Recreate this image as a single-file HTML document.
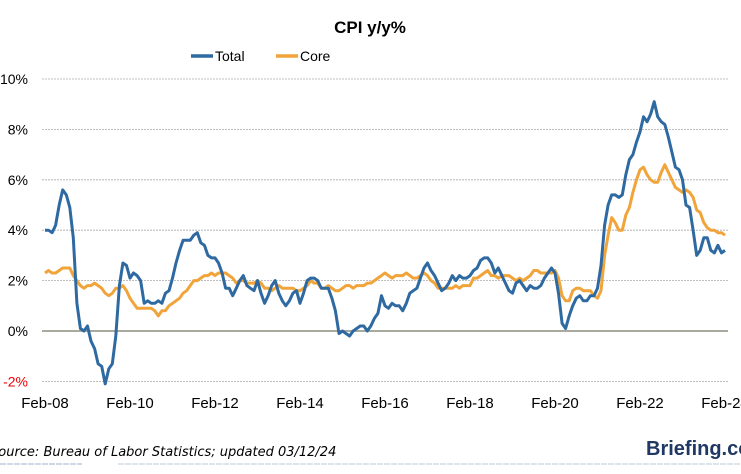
<!DOCTYPE html>
<html><head><meta charset="utf-8"><style>
body{margin:0;background:#fff;width:741px;height:474px;overflow:hidden;font-family:"Liberation Sans",sans-serif}
svg{display:block}
</style></head><body>
<svg id="chart" width="741" height="474">
<text x="370" y="33" text-anchor="middle" font-size="17" font-weight="bold">CPI y/y%</text>
<g>
<g><line x1="191" y1="56" x2="213" y2="56" stroke="#2e6aa1" stroke-width="3.5"/><text x="215" y="61" font-size="14">Total</text></g>
<g><line x1="276" y1="56" x2="298" y2="56" stroke="#f0a43a" stroke-width="3.5"/><text x="300" y="61" font-size="14">Core</text></g>
</g>
<g id="grid"></g><g id="xax"></g><g id="series"></g>
<text x="-10" y="456" font-size="13" font-style="italic" font-family="DejaVu Sans, sans-serif">Source: Bureau of Labor Statistics; updated 03/12/24</text>
<text x="646" y="455" font-size="20" font-weight="bold" fill="#1f3864">Briefing.com</text>
<line x1="0" y1="464" x2="82" y2="464" stroke="#9ab0cc" stroke-dasharray="6,1"/>
<line x1="118" y1="464" x2="741" y2="464" stroke="#b8c8dc" stroke-dasharray="6,1"/>
</svg>
<script>
const yTicks=[10,8,6,4,2,0,-2];
const xLabels=["Feb-08","Feb-10","Feb-12","Feb-14","Feb-16","Feb-18","Feb-20","Feb-22","Feb-24"];
const total=[4.0,4.0,3.9,4.2,5.0,5.6,5.4,4.9,3.7,1.1,0.1,
0.0,0.2,-0.4,-0.7,-1.3,-1.4,-2.1,-1.5,-1.3,-0.2,1.8,2.7,
2.6,2.1,2.3,2.2,2.0,1.1,1.2,1.1,1.1,1.2,1.1,1.5,
1.6,2.1,2.7,3.2,3.6,3.6,3.6,3.8,3.9,3.5,3.4,3.0,
2.9,2.9,2.7,2.3,1.7,1.7,1.4,1.7,2.0,2.2,1.8,1.7,
1.6,2.0,1.5,1.1,1.4,1.8,2.0,1.5,1.2,1.0,1.2,1.5,
1.6,1.1,1.5,2.0,2.1,2.1,2.0,1.7,1.7,1.7,1.3,0.8,
-0.1,0.0,-0.1,-0.2,0.0,0.1,0.2,0.2,0.0,0.2,0.5,0.7,
1.4,1.0,0.9,1.1,1.0,1.0,0.8,1.1,1.5,1.6,1.7,2.1,
2.5,2.7,2.4,2.2,1.9,1.6,1.7,1.9,2.2,2.0,2.2,2.1,
2.1,2.2,2.4,2.5,2.8,2.9,2.9,2.7,2.3,2.5,2.2,1.9,
1.6,1.5,1.9,2.0,1.8,1.6,1.8,1.7,1.7,1.8,2.1,2.3,
2.5,2.3,1.5,0.3,0.1,0.6,1.0,1.3,1.4,1.2,1.2,1.4,
1.4,1.7,2.6,4.2,5.0,5.4,5.4,5.3,5.4,6.2,6.8,7.0,
7.5,7.9,8.5,8.3,8.6,9.1,8.5,8.3,8.2,7.7,7.1,6.5,
6.4,6.0,5.0,4.9,4.0,3.0,3.2,3.7,3.7,3.2,3.1,3.4,
3.1,3.2];
const core=[2.3,2.4,2.3,2.3,2.4,2.5,2.5,2.5,2.2,2.0,1.8,
1.7,1.8,1.8,1.9,1.8,1.7,1.5,1.4,1.5,1.7,1.7,1.8,
1.6,1.3,1.1,0.9,0.9,0.9,0.9,0.9,0.8,0.6,0.8,0.8,
1.0,1.1,1.2,1.3,1.5,1.6,1.8,2.0,2.0,2.1,2.2,2.2,
2.3,2.2,2.3,2.3,2.3,2.2,2.1,1.9,2.0,2.0,1.9,1.9,
1.9,2.0,1.9,1.7,1.7,1.6,1.7,1.8,1.7,1.7,1.7,1.7,
1.6,1.6,1.7,1.8,2.0,1.9,1.9,1.7,1.7,1.8,1.7,1.6,
1.6,1.7,1.8,1.8,1.7,1.8,1.8,1.8,1.9,1.9,2.0,2.1,
2.2,2.3,2.2,2.1,2.2,2.2,2.2,2.3,2.2,2.1,2.1,2.2,
2.3,2.2,2.0,1.9,1.7,1.7,1.7,1.7,1.7,1.8,1.7,1.8,
1.8,1.8,2.1,2.1,2.2,2.3,2.4,2.2,2.2,2.1,2.2,2.2,
2.2,2.1,2.0,2.1,2.0,2.1,2.2,2.4,2.4,2.3,2.3,2.3,
2.3,2.4,2.1,1.4,1.2,1.2,1.6,1.7,1.7,1.6,1.6,1.6,
1.4,1.3,1.6,3.0,3.8,4.5,4.3,4.0,4.0,4.6,4.9,5.5,
6.0,6.4,6.5,6.2,6.0,5.9,5.9,6.3,6.6,6.3,6.0,5.7,
5.6,5.5,5.6,5.5,5.3,4.8,4.7,4.3,4.1,4.0,4.0,3.9,
3.9,3.8];
const NS="http://www.w3.org/2000/svg";
const x=i=>45+i*(85/24);
const y=v=>331-v*25.2;
const grid=document.getElementById('grid');
yTicks.forEach(t=>{
 const l=document.createElementNS(NS,'line');
 
 
 l.setAttribute('x1',42);l.setAttribute('x2',728);l.setAttribute('y1',y(t));l.setAttribute('y2',y(t));
 if(t===0){l.setAttribute('stroke','#a8aaa0');l.setAttribute('stroke-width','2');}
 else{l.setAttribute('stroke','#aaa');l.setAttribute('stroke-dasharray','2,1');l.setAttribute('stroke-width','0.8');}
 grid.appendChild(l);
 const tx=document.createElementNS(NS,'text');
 
 
 tx.setAttribute('x',28);tx.setAttribute('y',y(t)+5);tx.setAttribute('text-anchor','end');tx.setAttribute('font-size','14');
 tx.setAttribute('fill',t<0?'#e00':'#000');tx.textContent=t+'%';grid.appendChild(tx);
});
const xax=document.getElementById('xax');
xLabels.forEach((s,k)=>{
 const tx=document.createElementNS(NS,'text');
 
 
 tx.setAttribute('x',x(k*24));tx.setAttribute('y',408);tx.setAttribute('text-anchor','middle');tx.setAttribute('font-size','15');
 tx.textContent=s;xax.appendChild(tx);
});
const ser=document.getElementById('series');
[[core,'#f0a43a','core-line'],[total,'#2e6aa1','total-line']].forEach(([d,c,n])=>{
 const p=document.createElementNS(NS,'polyline');
 
 
 p.setAttribute('points',d.map((v,i)=>x(i).toFixed(1)+','+y(v).toFixed(1)).join(' '));
 p.setAttribute('fill','none');p.setAttribute('stroke',c);p.setAttribute('stroke-width','3');p.setAttribute('stroke-linejoin','round');
 ser.appendChild(p);
});
</script>
</body></html>
